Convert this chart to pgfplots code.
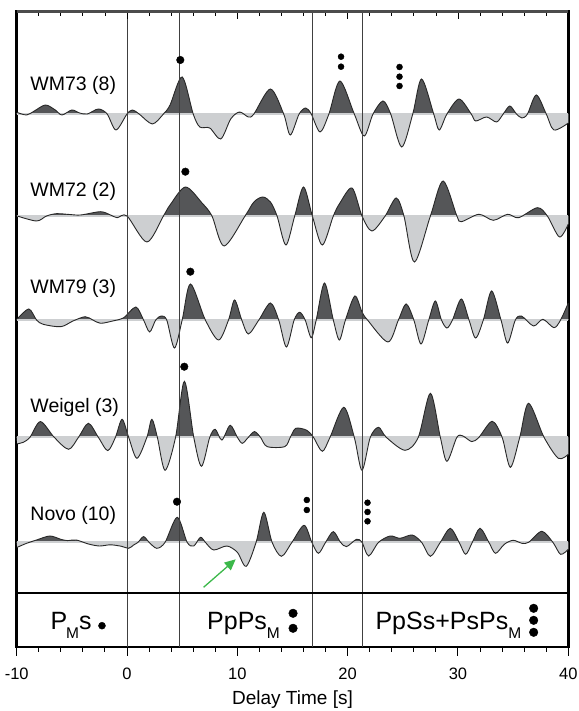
\documentclass[border=0pt]{standalone}
\usepackage{fontspec}
\setmainfont{Liberation Sans}
\usepackage{pgfplots}
\usepackage{pgfplotstable}
\pgfplotsset{compat=1.18}
\usetikzlibrary{arrows.meta}
\definecolor{posfill}{RGB}{85,86,88}
\definecolor{negfill}{RGB}{205,207,209}
\definecolor{wig}{RGB}{40,40,40}
\definecolor{arrowgreen}{RGB}{60,184,74}

% receiver functions: t = delay time [s], a = amplitude (px, up positive)
\pgfplotstableread{
t a
-9.95 1.5
-9.1 -1
-8.4 3
-7.4 9
-6.5 4
-5.9 -1
-5.0 4
-4.3 1
-3.6 0
-2.6 5
-1.8 0
-1.0 -16
0.0 0
0.5 4
1.1 0
2.3 -10
3.3 0
3.9 9
5.0 37
6.0 0
6.6 -13
7.5 -14
8.5 -25
9.4 -5
10.2 2
11.0 -3
11.5 0
13.0 25
14.2 0
14.8 -21
15.6 0
16.2 6
16.7 0
17.5 -18
18.3 0
19.3 33
20.6 0
21.5 -22
22.3 0
23.2 13
23.9 0
24.9 -33
25.9 0
26.7 35
27.8 0
28.3 -16
29.0 0
30.1 15
31.2 0
31.6 -7
32.6 -3
33.5 -8
34.1 0
34.7 8
35.3 0
35.8 -4
36.3 0
37.1 19
38.0 0
38.7 -16
40.0 -9
}\wmA

\pgfplotstableread{
t a
-9.95 0
-8.2 -5
-7.3 0
-6.4 2.3
-5.2 1.5
-4.2 1
-2.4 4.3
-1.5 1
-0.9 -1.7
0.0 0
1.8 -26
3.3 0
3.9 11
5.3 29
6.8 13
7.7 0
8.8 -30
10.7 0
11.5 14
12.3 19
13.0 14
13.6 0
14.4 -29
15.2 0
16.0 29
16.8 0
17.7 -29
18.7 0
19.3 13
20.4 28
21.3 0
22.2 -15
23.4 0
24.4 18
25.1 0
26.05 -46
27.5 0
28.65 35
29.9 0
30.3 -5.7
31.9 1.7
33.2 -4.3
34.5 1.7
35.5 -1.7
37.2 8.3
38.1 0
39.2 -21
40.0 -8
}\wmB

\pgfplotstableread{
t a
-9.95 1
-8.9 11
-8.2 0
-7.6 -4.3
-6.0 -6.7
-4.9 -1
-3.8 3.3
-3.1 0
-2.4 -3.3
-1.3 -1
-0.3 2.3
0.8 13
1.5 0
2.05 -12
2.6 0
3.1 4
3.6 0
4.3 -28
5.0 0
5.75 36
7.1 0
8.3 -20
9.2 0
9.75 20
10.4 0
11.0 -14
11.95 0
13.0 17
13.75 0
14.45 -27
15.15 0
15.65 7.7
16.15 0
16.7 -17.7
17.15 0
17.9 37
18.7 0
19.25 -20
19.8 0
20.65 24
21.3 8
21.8 0
23.65 -22
24.6 0
25.3 16
26.0 0
26.65 -24
27.35 0
27.95 19
28.5 0
29.0 -8
29.5 0
30.3 21
31.0 0
31.6 -18
32.3 0
33.05 29
33.9 0
34.5 -23
35.2 0
35.75 4
36.85 -6
37.7 0.7
38.7 -7.7
39.3 0
40.0 17
}\wmC

\pgfplotstableread{
t a
-9.95 -6.5
-9.4 -5
-8.8 0
-7.85 15.7
-6.6 0
-5.3 -12
-4.4 0
-3.5 14
-2.6 0
-1.75 -13.3
-1.05 0
-0.45 18
0.15 0
0.9 -21
1.8 0
2.25 18
2.75 0
3.45 -33
4.4 0
5.2 56
6.05 0
6.75 -29
7.5 0
8.0 8
8.6 -2.7
9.35 12
10.0 0
10.45 -6
11.0 0
11.55 5.7
12.1 0
12.7 -9.3
14.3 -9.3
14.8 0
15.3 9
16.3 7
16.9 0
17.7 -14
18.4 0
19.65 30
20.6 0
21.3 -33
22.05 0
22.8 10
23.5 0
25.2 -13
26.4 0
27.5 44
28.4 0
29.0 -24
29.9 0
30.45 1.3
31.25 -4.3
31.9 0
33.1 16
34.0 0
34.75 -30
35.6 0
36.4 34
37.8 0
39.1 -21
40.0 -17
}\weigel

\pgfplotstableread{
t a
-9.95 -5
-9.1 -1
-8.2 2.3
-7.0 6.3
-6.0 3
-5.4 1.7
-4.6 2.3
-3.5 -1.7
-2.5 -3.7
-1.5 -2.5
-0.5 -4
0.15 -6
0.6 -2.7
1.0 0
1.5 5.7
2.0 0
2.7 -6
3.45 0
4.55 25
5.45 0
6.05 -3.7
6.65 5
7.1 0
7.85 -7.7
9.05 -3.7
10.0 -10
10.8 -24
11.7 0
12.4 30
13.15 0
14.0 -14
14.95 0
16.05 17
16.75 0
17.35 -11
18.0 0
18.7 10.7
19.35 0
19.9 -4.3
20.8 3
21.3 0
21.9 -13.7
22.8 0
23.85 6.3
24.75 4
25.85 7.3
26.7 0
27.5 -14
28.4 0
29.3 14
30.1 0
30.7 -12
31.3 0
32.0 14
32.8 0
33.4 -11
34.2 -2
35.0 2
35.8 -1
36.4 0
37.6 11
38.6 0
39.3 -12
40.0 -7
}\novo

% #1 table, #2 depth of the zero line (px from top)
\newcommand\wiggle[2]{%
  \begin{scope}
    \clip (axis cs:-10,-#2) rectangle (axis cs:40,0);
    \addplot[fill=posfill, draw=none, smooth] table[x=t, y expr=\thisrow{a}-#2] {#1} -- (axis cs:40,-#2) -- (axis cs:-10,-#2) -- cycle;
  \end{scope}
  \begin{scope}
    \clip (axis cs:-10,-700) rectangle (axis cs:40,-#2);
    \addplot[fill=negfill, draw=none, smooth] table[x=t, y expr=\thisrow{a}-#2] {#1} -- (axis cs:40,-#2) -- (axis cs:-10,-#2) -- cycle;
  \end{scope}
  \addplot[negfill, line width=2pt] coordinates {(-10,-#2) (40,-#2)};
  \addplot[wig, line width=0.9pt, smooth] table[x=t, y expr=\thisrow{a}-#2] {#1};
}

\begin{document}
\begin{tikzpicture}
\useasboundingbox (-16.7pt,-64.3pt) rectangle (561.3pt,646.7pt);
\begin{axis}[
    scale only axis,
    width=551.6pt, height=635pt,
    xmin=-10, xmax=40, ymin=-646.7, ymax=-11.7,
    xtick={-10,0,...,40}, minor x tick num=4,
    ytick=\empty,
    xtick pos=left, tick align=outside,
    major tick length=9pt, minor tick length=5pt,
    tick style={black, line width=1pt},
    axis line style={line width=2.4pt},
    /pgf/number format/assume math mode=true,
    xticklabel style={font=\fontsize{16.5}{16.5}\selectfont, yshift=-9pt},
    xlabel={Delay Time [s]},
    xlabel style={font=\fontsize{19}{19}\selectfont, yshift=-4pt},
    every axis plot/.append style={forget plot},
]
\wiggle{\wmA}{114}
\wiggle{\wmB}{216}
\wiggle{\wmC}{320}
\wiggle{\weigel}{437.3}
\wiggle{\novo}{542.3}

% phase markers
\addplot[only marks, mark=*, mark size=3.8pt, black] coordinates {
  (4.83,-60) (5.29,-171.7) (5.74,-271.7) (5.19,-366.7) (4.53,-501.7)};
\addplot[only marks, mark=*, mark size=3pt, black] coordinates {
  (19.4,-56.7) (19.4,-66.7) (24.7,-67) (24.7,-76.7) (24.7,-86)
  (16.3,-500) (16.3,-510) (21.8,-502.7) (21.8,-512) (21.8,-521.3)};
\addplot[only marks, mark=*, mark size=3.5pt, black] coordinates {(-2.27,-625.7)};
\addplot[only marks, mark=*, mark size=4.3pt, black] coordinates {
  (15.05,-613.3) (15.05,-628.3) (36.86,-608.3) (36.86,-620.3) (36.86,-632.3)};

\foreach \tx in {0,4.77,16.77,21.3} {
  \edef\temp{\noexpand\draw[black!75, line width=0.8pt] (axis cs:\tx,-646.7) -- (axis cs:\tx,-11.7);}
  \temp
}
\draw[line width=2.4pt] (axis cs:-10,-593.3) -- (axis cs:40,-593.3);

\draw[arrowgreen, line width=1.3pt, -{Triangle[length=11pt, width=10pt]}]
  (axis cs:6.94,-587.3) -- (axis cs:9.85,-559.3);

\begin{scope}[every node/.style={anchor=base west, inner sep=0pt, font=\fontsize{19.5}{19.5}\selectfont}]
\node at (axis cs:-8.77,-91) {WM73 (8)};
\node at (axis cs:-8.77,-196.7) {WM72 (2)};
\node at (axis cs:-8.77,-294) {WM79 (3)};
\node at (axis cs:-8.77,-412.7) {Weigel (3)};
\node at (axis cs:-8.77,-520.7) {Novo (10)};
\end{scope}

\begin{scope}[every node/.style={anchor=base west, inner sep=0pt, font=\fontsize{25}{25}\selectfont}]
\node at (axis cs:-6.95,-630) {P\kern-1pt\raisebox{-9pt}{\fontsize{15.5}{15.5}\selectfont M}s};
\node at (axis cs:7.25,-630) {PpPs\raisebox{-9pt}{\fontsize{15.5}{15.5}\selectfont M}};
\node at (axis cs:22.51,-630) {PpSs+PsPs\raisebox{-9pt}{\fontsize{15.5}{15.5}\selectfont M}};
\end{scope}
\end{axis}

\begin{axis}[
    scale only axis,
    width=551.6pt, height=635pt,
    xmin=-10, xmax=40, ymin=0, ymax=1,
    axis x line*=top, axis y line=none,
    xtick={-10,0,...,40}, minor x tick num=4,
    xticklabels={},
    tick align=inside,
    major tick length=7pt, minor tick length=4pt,
    tick style={black, line width=0.8pt},
    axis line style={line width=2.4pt, black!70},
]
\end{axis}
\end{tikzpicture}
\end{document}
